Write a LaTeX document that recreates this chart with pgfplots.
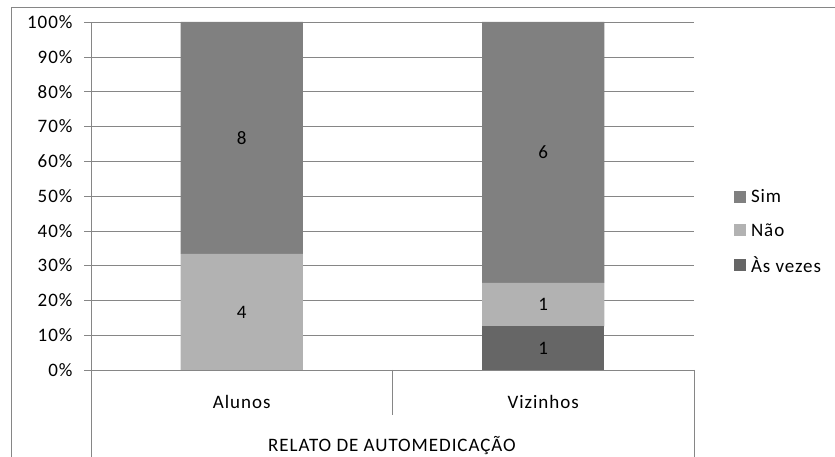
\documentclass[border=0pt]{standalone}
\usepackage{pgfplots}
\pgfplotsset{compat=1.18}
\usepackage{pgfplotstable}
\usepackage{fontspec}
\setmainfont{Carlito}[LetterSpace=5]

% Counts per group; bars are shown as shares of each group's total
\pgfplotstableread{
cat pos asvezes nao sim total
Alunos 0 0 4 8 12
Vizinhos 1 1 1 6 8
}\automed

\definecolor{simc}{RGB}{128,128,128}
\definecolor{naoc}{RGB}{178,178,178}
\definecolor{vezc}{RGB}{102,102,102}
\definecolor{linec}{RGB}{134,134,134}

% count label inside each stacked segment; zero counts get no label
\pgfplotsset{
  seg/.style={
    point meta=explicit,
    nodes near coords={\pgfmathfloatifflags{\pgfplotspointmeta}{0}{}{\pgfmathprintnumber{\pgfplotspointmeta}}},
    every node near coord/.append style={anchor=center, text=black},
  },
}

\begin{document}
\begin{tikzpicture}[x=1pt,y=1pt,font=\fontsize{19}{22}\selectfont]
\useasboundingbox (0,0) rectangle (835,457);
\begin{scope}
  \clip (0,0) rectangle (835,457);
  \draw[linec, line width=0.9pt] (11,-5) -- (11,450) -- (840,450);
  \draw[linec] (91,87) -- (91,-5);
  \draw[linec] (694,87) -- (694,-5);
  \draw[linec] (392,87) -- (392,42);
\end{scope}
\node at (392,11) {RELATO DE AUTOMEDICAÇÃO};

\begin{axis}[
  at={(91pt,87pt)}, anchor=south west,
  scale only axis, width=603pt, height=348pt,
  xmin=-0.5, xmax=1.5, ymin=0, ymax=100,
  ybar stacked, bar width=0.405,
  axis lines*=left,
  axis line style={linec},
  xtick={0,1}, xticklabels={Alunos,Vizinhos},
  x tick style={draw=none},
  xticklabel style={yshift=-15pt},
  ytick={0,10,...,100},
  yticklabel={\pgfmathprintnumber{\tick}\%},
  yticklabel style={xshift=-8pt},
  y tick style={linec},
  tick align=outside, major tick length=7pt,
  ymajorgrids, grid style={linec},
  tick label style={font=\fontsize{19}{22}\selectfont},
  /pgf/number format/assume math mode=true,
  reverse legend,
  legend cell align=left,
  legend image code/.code={\fill[#1] (0pt,-6pt) rectangle (12pt,6pt); \path (15pt,0pt);},
  legend style={at={(rel axis cs:1.066,0.397)}, anchor=west, draw=none, fill=none,
    inner sep=0pt, row sep=15pt, font=\fontsize{19}{22}\selectfont},
]
\addplot[fill=vezc, draw=none, seg]
  table[x=pos, y expr=\thisrow{asvezes}/\thisrow{total}*100, meta=asvezes] {\automed};
\addlegendentry{Às vezes}
\addplot[fill=naoc, draw=none, seg]
  table[x=pos, y expr=\thisrow{nao}/\thisrow{total}*100, meta=nao] {\automed};
\addlegendentry{Não}
\addplot[fill=simc, draw=none, seg]
  table[x=pos, y expr=\thisrow{sim}/\thisrow{total}*100, meta=sim] {\automed};
\addlegendentry{Sim}
\end{axis}
\end{tikzpicture}
\end{document}
